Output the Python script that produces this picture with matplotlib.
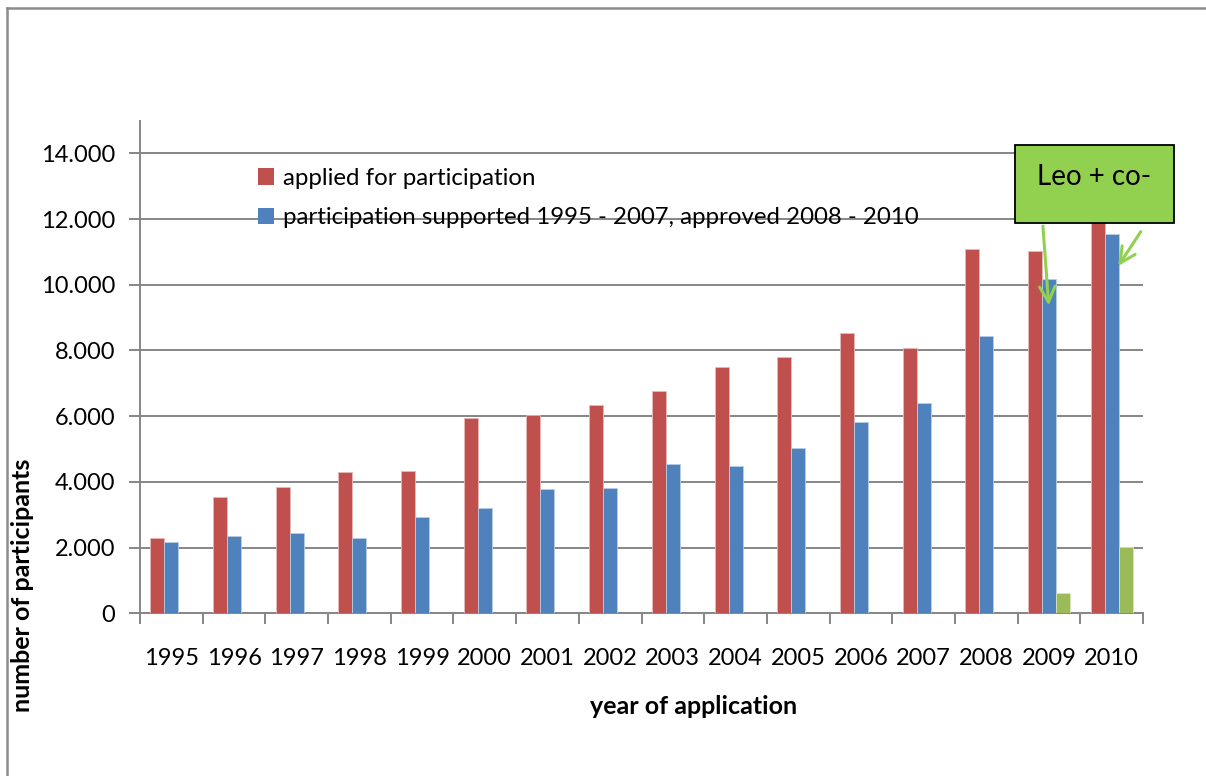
import matplotlib
matplotlib.use("Agg")
import matplotlib.pyplot as plt
from matplotlib.patches import Patch, Rectangle
from matplotlib.lines import Line2D
from matplotlib.ticker import FuncFormatter, FixedLocator
import numpy as np

years = ["1995", "1996", "1997", "1998", "1999", "2000", "2001", "2002",
         "2003", "2004", "2005", "2006", "2007", "2008", "2009", "2010"]
applied = [2283, 3531, 3836, 4301, 4332, 5954, 6027, 6341, 6758, 7507,
           7811, 8524, 8086, 11090, 11038, 12300]
supported = [2161, 2362, 2435, 2283, 2922, 3205, 3793, 3814, 4545, 4484,
             5023, 5823, 6411, 8432, 10167, 11537]
leo = [0, 0, 0, 0, 0, 0, 0, 0, 0, 0, 0, 0, 0, 0, 618, 2009]
series_labels = ["applied for participation",
                 "participation supported 1995 - 2007, approved 2008 - 2010"]
callout_text = "Leo + co-"

RED, BLUE, GREEN = "#C0504D", "#4F81BD", "#9BBB59"
CALLOUT = "#92D050"
GRID = "#868686"
FONT = "Lato"
W, H = 1206, 776

fig = plt.figure(figsize=(W / 100, H / 100), dpi=100)
ax = fig.add_axes([140 / W, 1 - 613.3 / H, (1143 - 140) / W, (613.3 - 120.5) / H])

x = np.arange(len(years))
bw = 0.223
ax.bar(x - bw, applied, bw, color=RED, edgecolor="#E6B9B8", linewidth=0.6, zorder=3)
ax.bar(x, supported, bw, color=BLUE, edgecolor="#B9CDE5", linewidth=0.6, zorder=3)
leo_x = [xi + bw for xi, v in zip(x, leo) if v > 0]
leo_v = [v for v in leo if v > 0]
ax.bar(leo_x, leo_v, bw, color=GREEN, edgecolor="#D7E4BD", linewidth=0.6, zorder=3)

ax.set_xlim(-0.5, len(years) - 0.5)
ax.set_ylim(0, 15000)
yt = list(range(0, 14001, 2000))
ax.set_yticks(yt)
ax.yaxis.set_major_formatter(FuncFormatter(lambda v, p: "0" if v == 0 else f"{int(v):,}".replace(",", ".")))
ax.yaxis.grid(True, color=GRID, linewidth=1.4, zorder=0)
ax.set_axisbelow(True)

ax.set_xticks(x)
ax.set_xticklabels(years)
ax.xaxis.set_minor_locator(FixedLocator(np.arange(-0.5, len(years), 1.0)))
ax.tick_params(axis="x", which="major", length=0, pad=25, labelsize=17)
ax.tick_params(axis="x", which="minor", length=8, width=1.4, color=GRID, direction="out")
ax.tick_params(axis="y", length=8, width=1.4, color=GRID, direction="out", pad=10, labelsize=17)
for lab in ax.get_xticklabels() + ax.get_yticklabels():
    lab.set_fontfamily(FONT)

for s in ["top", "right"]:
    ax.spines[s].set_visible(False)
for s in ["left", "bottom"]:
    ax.spines[s].set_color(GRID)
    ax.spines[s].set_linewidth(1.4)

fig.text(694 / W, 1 - 706 / H, "year of application", ha="center", va="center",
         fontsize=18, fontweight="bold", family=FONT)
fig.text(23 / W, 1 - 585 / H, "number of participants", ha="center", va="center",
         rotation=90, fontsize=18, fontweight="bold", family=FONT)

handles = [Patch(facecolor=RED), Patch(facecolor=BLUE)]
leg = fig.legend(handles, series_labels, loc="upper left",
                 bbox_to_anchor=(236 / W, 1 - 146 / H), frameon=False,
                 handlelength=0.7, handleheight=0.7, handletextpad=0.35,
                 labelspacing=0.78, prop={"family": FONT, "size": 17.3})

# callout box
fig.patches.append(Rectangle((1015 / W, 1 - 223.3 / H), (1174 - 1015) / W, (223.3 - 145.3) / H,
                             transform=fig.transFigure, facecolor=CALLOUT,
                             edgecolor="black", linewidth=1.3, zorder=10))
fig.text(1094 / W, 1 - 177 / H, callout_text, ha="center", va="center",
         fontsize=20, family=FONT, zorder=11)

arrow_kw = dict(arrowstyle="->", color=CALLOUT, lw=2.2, mutation_scale=28)
ax.annotate("", xy=(14.0, 9285), xytext=(13.9, 11872),
            arrowprops=arrow_kw, annotation_clip=False, zorder=9)
ax.annotate("", xy=(15.08, 10502), xytext=(15.49, 11689),
            arrowprops=arrow_kw, annotation_clip=False, zorder=9)

# outer border (top and left visible)
fig.add_artist(Line2D([7 / W, 7 / W], [0, 1 - 8 / H], transform=fig.transFigure,
                      color="#8C8C8C", linewidth=1.8))
fig.add_artist(Line2D([7 / W, 1], [1 - 8 / H, 1 - 8 / H], transform=fig.transFigure,
                      color="#8C8C8C", linewidth=1.8))

fig.savefig("out.png", dpi=100)
